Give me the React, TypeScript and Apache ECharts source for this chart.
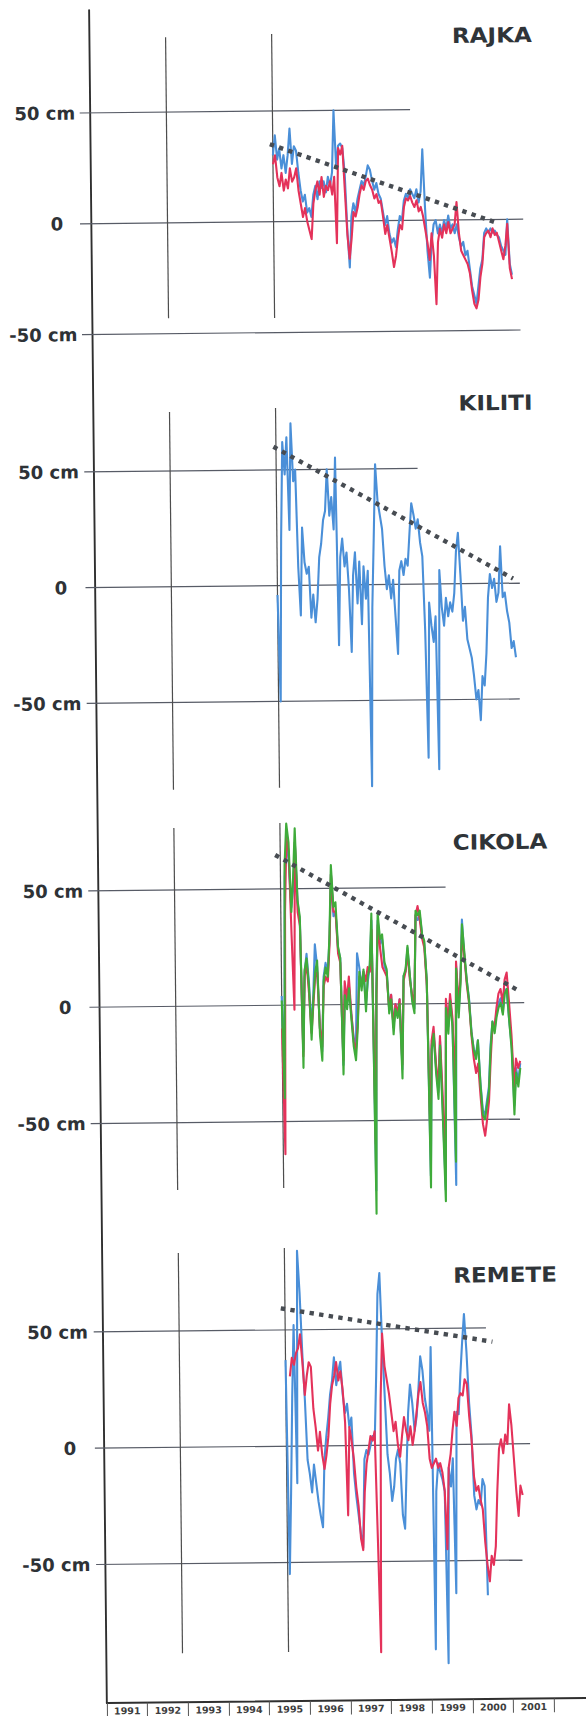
import React, { useEffect, useRef } from 'react';
import * as echarts from 'echarts';

// Year cells along the shared bottom axis (last cell is an empty run-out)
const yearLabels = ['1991', '1992', '1993', '1994', '1995', '1996', '1997', '1998', '1999', '2000', '2001', ''];

// Water-level deviations in cm, sampled every 0.05 year
const seriesStart = 1995.33;
const seriesStep = 0.05;
const remeteRedStart = 1995.43;

// Dates of the two vertical markers drawn in every panel
const markerYears = [1992.81, 1995.33];

// Labelled levels on each panel (cm)
const levelTicks = [50, 0, -50];

const rajkaBlue = [
  30, 39, 28, 33, 24, 30, 22, 30, 42, 26,
  34, 32, 22, 14, 9, 12, 4, 6, 2, 12,
  16, 10, 18, 15, 18, 13, 20, 16, 22, 50,
  24, 34, 35, 33, 22, -4, -21, 2, 8, 4,
  10, 14, 18, 16, 20, 25, 23, 18, 14, 17,
  12, 10, 4, -2, 2, -6, -10, -8, -12, -4,
  2, 0, 9, 12, 10, 14, 12, 10, 14, 8,
  13, 32, 6, -14, -26, -10, -2, 0, -6, -2,
  -6, 0, -4, 2, -4, -2, -6, -2, -8, -12,
  -10, -16, -14, -22, -30, -34, -38, -30, -22, -18,
  -6, -4, -6, -4, -6, -5, -7, -8, -12, -14,
  -16, 0, -20, -25,
];
const rajkaRed = [
  26, 30, 20, 16, 22, 14, 19, 15, 24, 18,
  20, 24, 14, 8, 2, 6, 0, -4, -8, 8,
  14, 18, 12, 20, 11, 16, 14, 18, 12, 20,
  -10, 33, 30, 34, 14, -6, -17, -8, 4, 2,
  6, 12, 16, 14, 18, 19, 16, 14, 10, 12,
  8, 9, 2, -6, -2, -8, -14, -21, -16, -8,
  -2, -4, 6, 10, 9, 11, 8, 6, 9, 4,
  6, 2, -4, -10, -18, -6, -16, -38, -10, -4,
  -8, -2, -6, -1, -6, -4, -2, 8, -6, -14,
  -16, -18, -20, -24, -32, -38, -40, -36, -26, -20,
  -8, -6, -5, -8, -4, -7, -6, -10, -14, -18,
  -12, -2, -22, -27,
];
const kilitiBlue = [
  -4, -50, 20, 62, 48, 64, 24, 70, 45, 50,
  8, -13, 25, 10, 5, 8, -14, -4, -16, -6,
  12, 18, 28, 32, 50, 30, 38, 24, 55, -26,
  12, 20, 8, 14, -2, -29, 4, 14, -8, 10,
  -17, 8, -6, 6, -87, -10, 20, 52, 36, 30,
  24, 8, -2, 4, -6, 2, -14, -30, 6, 10,
  4, 11, 8, 22, 35, 30, 24, 28, 18, 12,
  -20, -75, -8, -18, -25, -14, -80, 6, -10, -18,
  -6, -14, -8, -12, -4, 14, 22, 4, -16, -10,
  -24, -28, -32, -40, -50, -46, -59, -40, -44, -30,
  -6, 4, -2, 2, -8, -4, 16, -6, -4, -12,
  -17, -28, -25, -32,
];
const cikolaBlue = [
  4, -30, 55, 70, 62, 42, 50, 70, 44, 36,
  -20, 14, 22, 10, -10, 4, 26, 16, -10, -20,
  12, 18, 14, 28, 56, 38, 40, 24, 20, -26,
  6, 0, 8, -4, -14, -20, 22, 16, 8, 14,
  0, 10, 16, 36, -80, 6, 36, 26, 28, 16,
  14, -2, 4, -10, 0, -4, 2, -28, 12, 14,
  24, 12, 2, -2, 38, 36, 38, 30, 26, 10,
  -74, -18, -12, -28, -38, -16, -46, -80, 0, -10,
  2, -8, -78, 16, -4, 10, 36, 20, 10, 2,
  -12, -20, -22, -16, -34, -46, -48, -42, -36, -18,
  -8, -12, -4, 0, 2, -4, 6, 4, -8, -18,
  -44, -28, -34, -26,
];
const cikolaRed = [
  -10, -64, 40, 72, 66, 30, -2, 70, 40, 34,
  -22, 12, 18, 5, -12, 0, 12, 14, -10, -18,
  8, 12, 10, 26, 56, 40, 40, 22, 18, -24,
  10, 2, 12, -4, -16, -20, -8, 12, 8, 14,
  10, 16, 14, 32, -60, 2, 34, 24, 16, 14,
  12, -2, 4, -10, 0, -4, 2, -26, 10, 14,
  22, 10, 4, 0, 38, 42, 36, 28, 24, 8,
  -60, -16, -10, -26, -36, -14, -40, -70, 2, -8,
  4, -6, -40, 18, 0, 10, 30, 20, 8, 0,
  -14, -24, -30, -26, -40, -52, -57, -50, -42, -24,
  -10, -10, -2, 4, 6, 0, 10, 13, 0, -14,
  -36, -24, -28, -25,
];
const cikolaGreen = [
  2, -40, 60, 78, 70, 40, 55, 76, 45, 38,
  -27, 15, 20, 8, -15, 2, 14, 19, -13, -24,
  10, 16, 12, 30, 60, 42, 44, 25, 20, -30,
  4, -2, 7, -6, -18, -24, -10, 14, 6, 15,
  -3, 12, 17, 39, -90, 4, 39, 28, 30, 18,
  15, -4, 2, -13, -2, -6, 0, -32, 12, 15,
  25, 12, 1, -4, 40, 38, 40, 30, 27, 10,
  -79, -20, -13, -30, -41, -18, -50, -85, -2, -13,
  1, -10, -68, 15, -6, 8, 34, 22, 10, 1,
  -13, -20, -24, -16, -35, -48, -50, -44, -38, -20,
  -8, -13, -6, -2, 0, -5, 4, 6, -8, -20,
  -48, -30, -36, -28,
];
const remeteBlue = [
  37, -55, -20, 21, 52, -16, 84, 66, 40, 20,
  -6, -12, -20, -8, -16, -24, -30, -35, -6, 4,
  12, 22, 28, 38, 26, 32, 36, 22, 14, 18,
  8, 12, -12, -22, -30, -38, -44, -6, -2, -4,
  0, 4, 2, 30, 65, 74, 44, 20, -4, -12,
  -24, -18, -6, -2, -8, -30, -36, -10, 14, 26,
  18, 6, 12, 24, 38, 32, 20, 14, 6, 42,
  -88, -20, -8, -12, -15, -20, -94, -10, -18, -6,
  -64, 14, 13, 30, 44, 56, 40, 18, 4, -22,
  -28, -24, -26, -15, -18, -65,
];
const remeteRed = [
  30, 38, 35, 40, 42, 48, 36, 22, 30, 36,
  34, 16, 8, -2, 6, -4, -10, -4, 4, 18,
  26, 30, 36, 28, 32, 24, 10, -30, 8, 2,
  -6, -18, -26, -40, -45, -20, -8, -2, 4, 2,
  6, -40, -89, 20, 48, 34, 28, 22, 14, 6,
  10, 0, -5, 4, 12, 6, 2, 8, 0, 6,
  14, 22, 27, 18, 14, 8, -6, -10, -8, -6,
  -10, -8, -12, -20, -45, -10, -4, 6, 14, 8,
  20, 22, 21, 28, 26, 12, 2, -14, -20, -18,
  -24, -28, -42, -52, -59, -48, -52, -44, -20, -2,
  2, -4, 4, 0, 17, 8, -6, -20, -31, -18,
  -22,
];

// Dotted trend lines over the upper envelope: [year, cm]
const rajkaTrend = [[1995.26, 35], [2000.63, -1.5]];
const kilitiTrend = [[1995.27, 60], [2000.93, 2]];
const cikolaTrend = [[1995.21, 64.6], [2001.01, 4.7]];
const remeteTrend = [[1995.23, 59.3], [2000.25, 44]];

const BLUE = '#4a8fd8';
const RED = '#e4325a';
const GREEN = '#3fab3a';
const LABEL_FONT = '"DejaVu Sans", "Liberation Sans", Arial, sans-serif';

const toPoints = (values: number[], start: number) =>
  values.map((v, i) => [+(start + seriesStep * i).toFixed(3), v]);

export default function App() {
  const ref = useRef<HTMLDivElement>(null);

  useEffect(() => {
    if (!ref.current) return;
    const chart = echarts.init(ref.current, null, { renderer: 'svg' });

    const panels = [
      {
        title: 'RAJKA', titleAt: [500.5, 37.6], zero: 216.8, pxPerCm: 2.264,
        lines: [
          { values: rajkaBlue, start: seriesStart, color: BLUE },
          { values: rajkaRed, start: seriesStart, color: RED },
        ],
        trend: rajkaTrend,
        refEnds: [[1990.75, 1998.6], [1990.73, 2001.26], [1990.75, 2001.17]],
        markerSpan: [[83.8, -43], [84.7, -43.4]],
      },
      {
        title: 'KILITI', titleAt: [500.3, 405.1], zero: 585.5, pxPerCm: 2.316,
        lines: [{ values: kilitiBlue, start: seriesStart, color: BLUE }],
        trend: kilitiTrend,
        refEnds: [[1990.77, 1998.69], [1990.77, 2001.09], [1990.77, 2001.06]],
        markerSpan: [[75.5, -87.7], [76.7, -87.3]],
      },
      {
        title: 'CIKOLA', titleAt: [500.2, 844.2], zero: 1005.1, pxPerCm: 2.327,
        lines: [
          { values: cikolaBlue, start: seriesStart, color: BLUE },
          { values: cikolaRed, start: seriesStart, color: RED },
          { values: cikolaGreen, start: seriesStart, color: GREEN },
        ],
        trend: cikolaTrend,
        refEnds: [[1990.76, 1999.25], [1990.76, 2001.09], [1990.76, 2000.96]],
        markerSpan: [[76.6, -78.9], [78.3, -78.6]],
      },
      {
        title: 'REMETE', titleAt: [500.6, 1277.2], zero: 1446.1, pxPerCm: 2.326,
        lines: [
          { values: remeteBlue, start: seriesStart, color: BLUE },
          { values: remeteRed, start: remeteRedStart, color: RED },
        ],
        trend: remeteTrend,
        refEnds: [[1990.78, 2000.1], [1990.78, 2001.12], [1990.78, 2000.91]],
        markerSpan: [[83.5, -88.5], [85.2, -88.5]],
      },
    ];

    // Shared time scale: 1991 starts at x=98, 42.09 px per year
    const xMin = 1990.7;
    const xMax = 2002;
    const pxPerYear = 42.09;
    const panelLeft = 98 - (1991 - xMin) * pxPerYear;
    const panelWidth = (xMax - xMin) * pxPerYear;

    const grids: any[] = [
      { left: 98, top: 8, width: pxPerYear * yearLabels.length, height: 1693 },
    ];
    const xAxes: any[] = [
      {
        type: 'category', gridIndex: 0, data: yearLabels, boundaryGap: true,
        axisLine: { show: true, lineStyle: { color: '#2f2f2f', width: 2 } },
        axisTick: { show: true, interval: 0, alignWithLabel: false, length: 14, lineStyle: { color: '#555555', width: 1 } },
        axisLabel: { interval: 0, margin: 3, fontSize: 9.5, fontWeight: 'bold', fontFamily: LABEL_FONT, color: '#3d3d3d' },
        splitLine: { show: false },
      },
    ];
    const yAxes: any[] = [
      {
        type: 'value', gridIndex: 0, min: 0, max: 1,
        axisLine: { show: true, lineStyle: { color: '#2f2f2f', width: 1.9 } },
        axisTick: { show: false }, axisLabel: { show: false }, splitLine: { show: false },
      },
    ];
    const series: any[] = [{ type: 'line', xAxisIndex: 0, yAxisIndex: 0, data: [], silent: true }];
    const graphics: any[] = [];

    const seg = (idx: number, data: number[][], color: string, width: number, z: number, type: any = 'solid') => ({
      type: 'line', xAxisIndex: idx, yAxisIndex: idx, data, symbol: 'none', silent: true, clip: false, z,
      lineStyle: { color, width, type, cap: 'butt' },
    });

    panels.forEach((p, k) => {
      const idx = k + 1;
      grids.push({
        left: panelLeft, width: panelWidth,
        top: p.zero - p.pxPerCm * 100, height: p.pxPerCm * 200,
      });
      xAxes.push({ type: 'value', gridIndex: idx, min: xMin, max: xMax, show: false });
      yAxes.push({
        type: 'value', gridIndex: idx, min: -100, max: 100, interval: 50,
        axisLine: { show: false }, axisTick: { show: false }, splitLine: { show: false },
        axisLabel: {
          margin: 2.4, fontSize: 18, fontWeight: 'bold', fontFamily: LABEL_FONT, color: '#2e3236',
          formatter: (v: number) => (v === 0 ? '{z|0}' : levelTicks.includes(v) ? `${v} cm` : ''),
          rich: { z: { fontSize: 18, fontWeight: 'bold', fontFamily: LABEL_FONT, color: '#2e3236', padding: [0, 13, 0, 0] } },
        },
      });

      // horizontal level lines
      levelTicks.forEach((lvl, j) => {
        const [a, b] = p.refEnds[j];
        series.push(seg(idx, [[a, lvl], [b, lvl]], '#575b66', 1.2, 1));
      });
      // vertical marker lines
      markerYears.forEach((yr, j) => {
        const [top, bottom] = p.markerSpan[j];
        series.push(seg(idx, [[yr, top], [yr, bottom]], '#4d4d4d', 1.2, 1));
      });
      // measured series
      p.lines.forEach((l) => {
        series.push({
          type: 'line', xAxisIndex: idx, yAxisIndex: idx, data: toPoints(l.values, l.start),
          symbol: 'none', silent: true, clip: false, z: 2,
          lineStyle: { color: l.color, width: 2.1, join: 'round' },
        });
      });
      // dotted trend
      series.push(seg(idx, p.trend, '#474c52', 4.4, 3, [4.4, 5.3]));

      graphics.push({
        type: 'text', x: p.titleAt[0], y: p.titleAt[1], scaleX: 1.1, silent: true,
        style: {
          text: p.title, fontSize: 21, fontWeight: 'bold', fontFamily: LABEL_FONT, fill: '#2f3438',
          align: 'center', verticalAlign: 'middle',
        },
      });
    });

    chart.setOption({
      animation: false,
      backgroundColor: '#ffffff',
      grid: grids,
      xAxis: xAxes,
      yAxis: yAxes,
      series,
      graphic: graphics,
    });

    return () => chart.dispose();
  }, []);

  return (
    <div style={{ position: 'absolute', left: 0, top: 0, width: 586, height: 1716, overflow: 'hidden', background: '#fff' }}>
      <div
        ref={ref}
        style={{ width: 586, height: 1716, transform: 'rotate(-0.6deg)', transformOrigin: '50% 50%' }}
      />
    </div>
  );
}
